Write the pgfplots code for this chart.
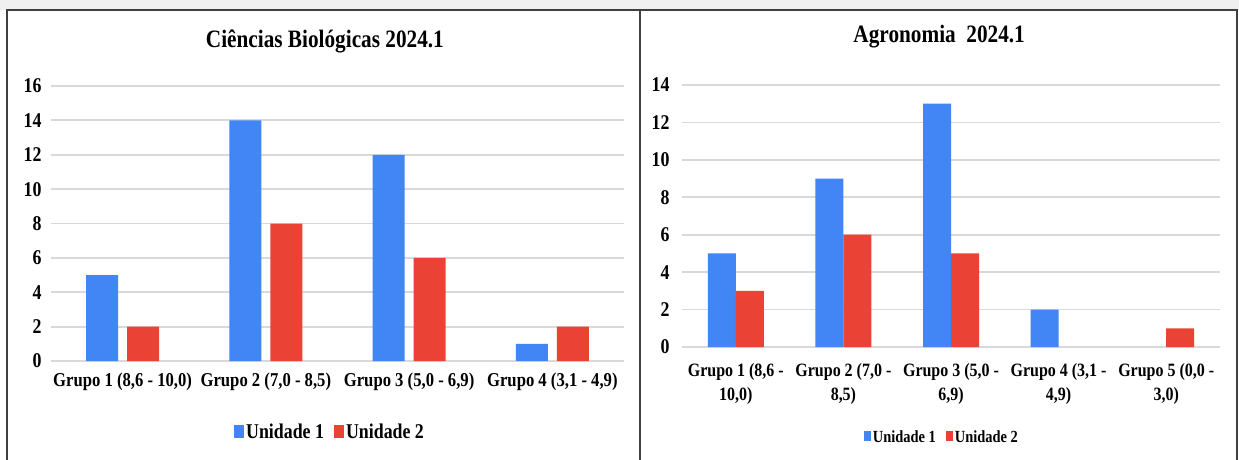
\documentclass[border=0pt]{standalone}
\usepackage{fontspec}
\setmainfont{Liberation Serif}[FakeStretch=0.85]
\usepackage{pgfplots}
\pgfplotsset{compat=1.18}
\definecolor{ublue}{HTML}{4285F4}
\definecolor{ured}{HTML}{EA4335}
\definecolor{gridc}{HTML}{D9D9D9}
\definecolor{framec}{HTML}{404040}

\pgfplotsset{
  panel/.style={
    scale only axis, anchor=south west,
    axis line style={draw=none}, tick style={draw=none},
    ymajorgrids, grid style={gridc, line width=1.8pt},
    ymin=0, ybar,
    /pgf/number format/assume math mode=true,
    yticklabel style={font=\bfseries\fontsize{21}{21}\selectfont},
    legend style={draw=none, fill=none, legend columns=2},
  },
}

\begin{document}
\begin{tikzpicture}
\useasboundingbox (0pt,0pt) rectangle (1239pt,459pt);
\fill[white] (0pt,0pt) rectangle (1239pt,459pt);
\fill[black!6] (0pt,449pt) rectangle (1239pt,459pt);

% Ciencias Biologicas
\begin{axis}[panel,
  at={(51pt,98pt)}, width=573pt, height=275pt,
  xmin=-0.5, xmax=3.5, ymax=16, ytick={0,2,...,16},
  xtick={0,1,2,3},
  xticklabels={{Grupo 1 (8,6 - 10,0)},{Grupo 2 (7,0 - 8,5)},{Grupo 3 (5,0 - 6,9)},{Grupo 4 (3,1 - 4,9)}},
  xticklabel style={font=\bfseries\fontsize{19.6}{22}\selectfont, yshift=-4pt},
  yticklabel style={xshift=-6pt},
  bar width=32pt, ybar=9pt,
  title={Ciências Biológicas 2024.1},
  title style={font=\bfseries\fontsize{25}{25}\selectfont, at={(0.478,1)}, anchor=center, yshift=39pt},
  legend style={at={(0.487,-0.258)}, anchor=center, font=\bfseries\fontsize{21}{22}\selectfont,
    /tikz/every even column/.append style={column sep=8pt}},
  legend image code/.code={\fill[#1] (0pt,-6pt) rectangle (10pt,7pt);},
]
\addplot[fill=ublue, draw=none] coordinates {(0,5) (1,14) (2,12) (3,1)};
\addplot[fill=ured, draw=none] coordinates {(0,2) (1,8) (2,6) (3,2)};
\legend{Unidade 1, Unidade 2}
\end{axis}

% Agronomia
\begin{axis}[panel,
  at={(682pt,112pt)}, width=538pt, height=262pt,
  xmin=-0.5, xmax=4.5, ymax=14, ytick={0,2,...,14},
  xtick={0,1,2,3,4},
  xticklabels={{Grupo 1 (8,6 -\\10,0)},{Grupo 2 (7,0 -\\8,5)},{Grupo 3 (5,0 -\\6,9)},{Grupo 4 (3,1 -\\4,9)},{Grupo 5 (0,0 -\\3,0)}},
  xticklabel style={font=\bfseries\fontsize{18.8}{24}\selectfont, align=center, yshift=-9pt},
  yticklabel style={xshift=-9pt},
  bar width=28pt, ybar=0pt,
  title={Agronomia\ \ 2024.1},
  title style={font=\bfseries\fontsize{25}{25}\selectfont, at={(0.478,1)}, anchor=center, yshift=42pt},
  legend style={at={(0.483,-0.344)}, anchor=center, font=\bfseries\fontsize{17}{18}\selectfont,
    /tikz/every even column/.append style={column sep=8pt}},
  legend image code/.code={\fill[#1] (0pt,-4pt) rectangle (7pt,6pt);},
]
% zero counts (Grupo 5 / Unidade 1, Grupo 4 / Unidade 2) are left out
\addplot[fill=ublue, draw=none] coordinates {(0,5) (1,9) (2,13) (3,2)};
\addplot[fill=ured, draw=none] coordinates {(0,3) (1,6) (2,5) (4,1)};
\legend{Unidade 1, Unidade 2}
\end{axis}

\draw[framec, line width=2pt] (7pt,-5pt) -- (7pt,449pt) -- (1237pt,449pt) -- (1237pt,-5pt);
\draw[framec, line width=2pt] (640pt,-5pt) -- (640pt,449pt);
\end{tikzpicture}
\end{document}
